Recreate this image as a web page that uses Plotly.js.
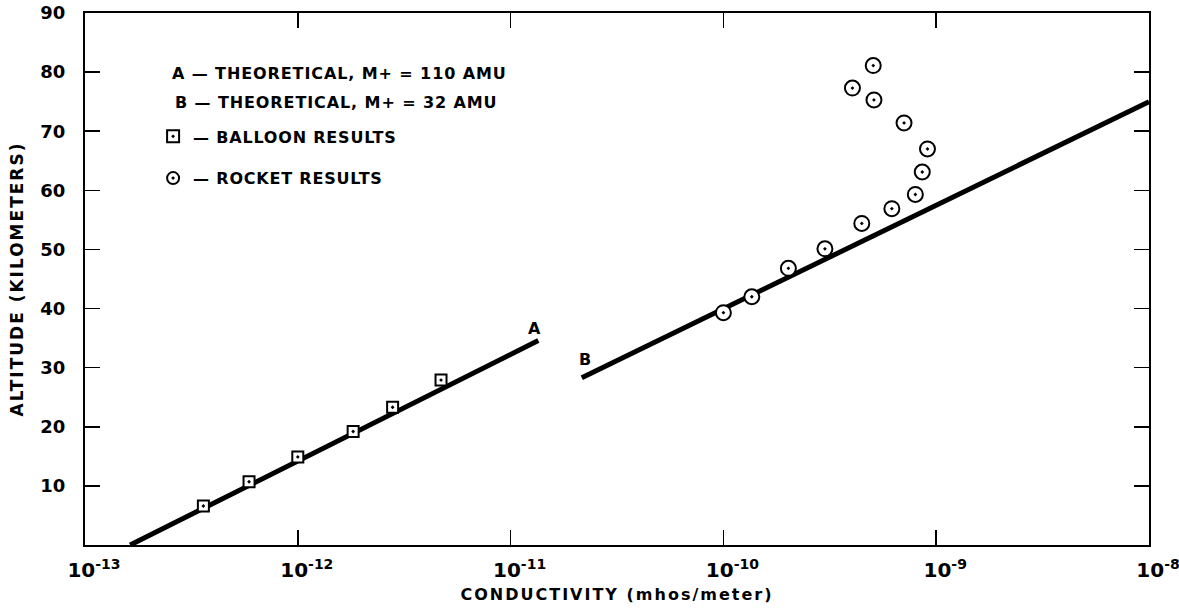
<!DOCTYPE html>
<html>
<head>
<meta charset="utf-8">
<script src="https://cdn.plot.ly/plotly-3.0.1.min.js"></script>
<style>
  html, body { margin: 0; padding: 0; background: #ffffff; }
  #chart { width: 1179px; height: 613px; }
  .xtitle { letter-spacing: 2px; }
  .ytitle { letter-spacing: 2px; }
  .annotation-text { letter-spacing: 0.9px; }
  .legendtext { letter-spacing: 0.8px; }
</style>
</head>
<body>
<div id="chart"></div>
<script>
// ---- Data ----
const lineA_x = [1.63e-13, 1.35e-11];
const lineA_y = [0, 34.6];
const lineB_x = [2.16e-11, 1e-8];
const lineB_y = [28.3, 75.0];

const balloon_x = [3.6e-13, 5.9e-13, 1.0e-12, 1.82e-12, 2.79e-12, 4.71e-12];
const balloon_y = [6.6, 10.7, 14.9, 19.2, 23.3, 27.9];

const rocket_x = [1.0e-10, 1.36e-10, 2.02e-10, 3.0e-10, 4.47e-10, 6.19e-10, 7.98e-10,
                  8.6e-10, 9.1e-10, 7.06e-10, 5.1e-10, 4.04e-10, 5.06e-10];
const rocket_y = [39.3, 42.0, 46.8, 50.1, 54.4, 56.9, 59.3, 63.1, 67.0, 71.4, 75.3, 77.3, 81.1];

const xTickVals = [1e-13, 1e-12, 1e-11, 1e-10, 1e-9, 1e-8];
const xTickText = ['10<sup>-13</sup>', '10<sup>-12</sup>', '10<sup>-11</sup>',
                   '10<sup>-10</sup>', '10<sup>-9</sup>', '10<sup>-8</sup>'];
const yTickVals = [10, 20, 30, 40, 50, 60, 70, 80, 90];

const legendRowA = 'A \u2014 THEORETICAL, M+ = 110 AMU';
const legendRowB = 'B \u2014 THEORETICAL, M+ = 32 AMU';
const balloonName = '\u2014 BALLOON RESULTS';
const rocketName = '\u2014 ROCKET RESULTS';

// ---- Plot ----
const FONT = 'DejaVu Sans, sans-serif';
const traces = [
  { x: lineA_x, y: lineA_y, mode: 'lines', line: { color: '#000', width: 5 },
    showlegend: false, hoverinfo: 'skip' },
  { x: lineB_x, y: lineB_y, mode: 'lines', line: { color: '#000', width: 5 },
    showlegend: false, hoverinfo: 'skip' },
  { x: balloon_x, y: balloon_y, mode: 'markers', name: balloonName, legendgroup: 'g1',
    marker: { symbol: 'square-dot', size: 11, color: '#fff', line: { color: '#000', width: 2 } } },
  { x: rocket_x, y: rocket_y, mode: 'markers', name: rocketName, legendgroup: 'g2',
    marker: { symbol: 'circle-dot', size: 15, color: '#fff', line: { color: '#000', width: 2 } } }
];

const layout = {
  width: 1179, height: 613,
  margin: { l: 85, r: 30, t: 13, b: 68 },
  paper_bgcolor: '#fff', plot_bgcolor: '#fff',
  font: { family: FONT, color: '#000' },
  showlegend: true,
  legend: {
    x: 0.064, y: 0.80, xanchor: 'left', yanchor: 'top',
    bgcolor: 'rgba(0,0,0,0)', borderwidth: 0,
    traceorder: 'grouped', tracegroupgap: 18,
    font: { family: FONT, size: 16, weight: 'bold', color: '#000' },
    itemsizing: 'constant'
  },
  xaxis: {
    type: 'log', range: [-13, -8],
    tickvals: xTickVals, ticktext: xTickText,
    ticks: 'inside', ticklen: 15, tickwidth: 1.5, tickcolor: '#000',
    showline: true, linewidth: 2, linecolor: '#000', mirror: 'ticks',
    showgrid: false, zeroline: false,
    tickfont: { family: FONT, size: 20, weight: 'bold', color: '#000' },
    ticklabelshift: 9, ticklabelstandoff: 6, ticklabeloverflow: 'allow',
    title: { text: 'CONDUCTIVITY (mhos/meter)', standoff: 8,
             font: { family: FONT, size: 16, weight: 'bold', color: '#000' } }
  },
  yaxis: {
    range: [0, 90], tickvals: yTickVals,
    ticks: 'inside', ticklen: 15, tickwidth: 1.5, tickcolor: '#000',
    showline: true, linewidth: 2, linecolor: '#000', mirror: 'ticks',
    showgrid: false, zeroline: false,
    tickfont: { family: FONT, size: 18, weight: 'bold', color: '#000' },
    ticklabelstandoff: 14,
    title: { text: 'ALTITUDE (KILOMETERS)', standoff: 12,
             font: { family: FONT, size: 17, weight: 'bold', color: '#000' } }
  },
  annotations: [
    { text: legendRowA, xref: 'x', yref: 'y', x: Math.log10(2.5e-13), y: 79.8,
      xanchor: 'left', yanchor: 'middle', showarrow: false,
      font: { family: FONT, size: 16, weight: 'bold', color: '#000' } },
    { text: legendRowB, xref: 'x', yref: 'y', x: Math.log10(2.6e-13), y: 74.9,
      xanchor: 'left', yanchor: 'middle', showarrow: false,
      font: { family: FONT, size: 16, weight: 'bold', color: '#000' } },
    { text: 'A', xref: 'x', yref: 'y', x: Math.log10(1.29e-11), y: 36.6,
      xanchor: 'center', yanchor: 'middle', showarrow: false,
      font: { family: FONT, size: 16, weight: 'bold', color: '#000' } },
    { text: 'B', xref: 'x', yref: 'y', x: Math.log10(2.25e-11), y: 31.3,
      xanchor: 'center', yanchor: 'middle', showarrow: false,
      font: { family: FONT, size: 16, weight: 'bold', color: '#000' } }
  ]
};

Plotly.newPlot('chart', traces, layout, { displayModeBar: false, staticPlot: true });
</script>
</body>
</html>
